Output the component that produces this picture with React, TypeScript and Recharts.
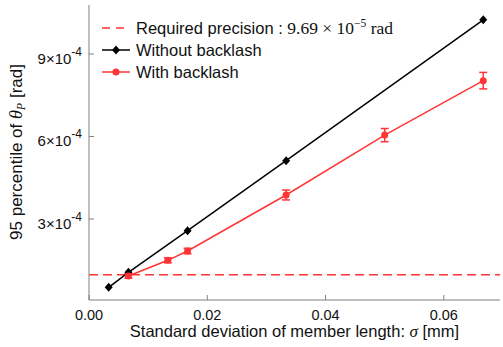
import { ComposedChart, ErrorBar, Line, ReferenceLine, XAxis, YAxis } from "recharts";

// standard deviation of member length [mm]
const sigmaWithout = [0.00333, 0.00667, 0.01667, 0.03333, 0.06667];
const thetaWithout = [0.516e-4, 1.062e-4, 2.575e-4, 5.12e-4, 10.24e-4];

const sigmaWith = [0.00667, 0.01333, 0.01667, 0.03333, 0.05, 0.06667];
const thetaWith = [0.927e-4, 1.498e-4, 1.836e-4, 3.873e-4, 6.05e-4, 8.03e-4];
const errWith = [0.08e-4, 0.09e-4, 0.1e-4, 0.18e-4, 0.24e-4, 0.3e-4];

const requiredPrecision = 9.69e-5;

const xTicks = [0, 0.02, 0.04, 0.06];
const yTicks = [3e-4, 6e-4, 9e-4];

const withoutData = sigmaWithout.map((s, i) => ({ sigma: s, theta: thetaWithout[i] }));
const withData = sigmaWith.map((s, i) => ({ sigma: s, theta: thetaWith[i], err: errWith[i] }));

const RED = "#ff3535";
const AXIS = "#808080";
const FONT = "'Liberation Sans', Arial, sans-serif";
const SERIF = "'Liberation Serif', 'Times New Roman', serif";

const BottomTick = ({ x, y, payload }: any) => (
  <g>
    <line x1={x} y1={y} x2={x} y2={y - 5} stroke={AXIS} />
    <text x={x} y={y + 20} textAnchor="middle" fontSize={14.5} fill="#111" fontFamily={FONT}>
      {payload.value.toFixed(2)}
    </text>
  </g>
);

const TopTick = ({ x, y }: any) => <line x1={x} y1={y} x2={x} y2={y + 5} stroke={AXIS} />;

const LeftTick = ({ x, y, payload }: any) => {
  const [m, e] = payload.value.toExponential(0).split("e");
  return (
    <g>
      <line x1={x} y1={y} x2={x + 5} y2={y} stroke={AXIS} />
      <text x={x - 7} y={y + 10} textAnchor="end" fontSize={15} fill="#111" fontFamily={FONT}>
        {m}×10
        <tspan dy={-8} fontSize={12}>{e}</tspan>
      </text>
    </g>
  );
};

const RightTick = ({ x, y }: any) => <line x1={x} y1={y} x2={x - 5} y2={y} stroke={AXIS} />;

const Diamond = ({ cx, cy, index }: any) => (
  <path key={index} d={`M${cx},${cy - 4.5}L${cx + 4},${cy}L${cx},${cy + 4.5}L${cx - 4},${cy}Z`} fill="#000" />
);

const XLabel = ({ viewBox }: any) => (
  <text
    x={viewBox.x + viewBox.width / 2}
    y={viewBox.y + 37}
    textAnchor="middle"
    fontSize={16.5}
    fill="#111"
    fontFamily={FONT}
  >
    Standard deviation of member length:{" "}
    <tspan fontFamily={SERIF} fontStyle="italic" fontSize={17}>σ</tspan> [mm]
  </text>
);

const YLabel = () => (
  <text
    transform="translate(22,152) rotate(-90)"
    textAnchor="middle"
    fontSize={17}
    fill="#111"
    fontFamily={FONT}
  >
    95 percentile of{" "}
    <tspan fontFamily={SERIF} fontStyle="italic" fontSize={18}>θ</tspan>
    <tspan fontFamily={SERIF} fontStyle="italic" fontSize={12} dy={3}>P</tspan>
    <tspan dy={-3}> [rad]</tspan>
  </text>
);

function LegendBox() {
  const row = (y: number, icon: React.ReactNode, label: React.ReactNode) => (
    <div style={{ position: "absolute", left: 0, top: y, display: "flex", alignItems: "center", height: 20 }}>
      <svg width={34} height={20}>{icon}</svg>
      <span style={{ marginLeft: 2, whiteSpace: "nowrap" }}>{label}</span>
    </div>
  );
  return (
    <div style={{ position: "absolute", left: 100, top: 0, fontFamily: FONT, fontSize: 16.5, color: "#111" }}>
      {row(
        18,
        <line x1={2} y1={10} x2={30} y2={10} stroke={RED} strokeWidth={1.5} strokeDasharray="8 6" />,
        <>
          Required precision :{" "}
          <span style={{ fontFamily: SERIF, fontSize: 17.5 }}>
            9.69 × 10<sup style={{ fontSize: 11.5 }}>−5</sup> rad
          </span>
        </>
      )}
      {row(
        40,
        <>
          <line x1={2} y1={10} x2={30} y2={10} stroke="#000" strokeWidth={1.5} />
          <path d="M16,5.5L20,10L16,14.5L12,10Z" fill="#000" />
        </>,
        "Without backlash"
      )}
      {row(
        62,
        <>
          <line x1={2} y1={10} x2={30} y2={10} stroke={RED} strokeWidth={1.5} />
          <circle cx={16} cy={10} r={3.5} fill={RED} />
        </>,
        "With backlash"
      )}
    </div>
  );
}

export default function App() {
  return (
    <div style={{ position: "absolute", left: 0, top: 0, width: 503, height: 347, background: "#fff" }}>
      <ComposedChart width={503} height={347} margin={{ top: 5, right: 3, left: 0, bottom: 0 }}>
        <XAxis
          xAxisId="b"
          dataKey="sigma"
          type="number"
          domain={[0, 0.0695]}
          ticks={xTicks}
          allowDataOverflow
          height={47}
          tickSize={0}
          tickMargin={0}
          tickLine={false}
          axisLine={{ stroke: AXIS }}
          tick={<BottomTick />}
          label={<XLabel />}
        />
        <XAxis
          xAxisId="t"
          orientation="top"
          type="number"
          domain={[0, 0.0695]}
          ticks={xTicks}
          allowDataOverflow
          height={0}
          tickSize={0}
          tickMargin={0}
          tickLine={false}
          axisLine={{ stroke: AXIS }}
          tick={<TopTick />}
        />
        <YAxis
          yAxisId="l"
          type="number"
          domain={[5.5e-6, 1.078e-3]}
          ticks={yTicks}
          allowDataOverflow
          width={89}
          tickSize={0}
          tickMargin={0}
          tickLine={false}
          axisLine={{ stroke: AXIS }}
          tick={<LeftTick />}
          label={<YLabel />}
        />
        <YAxis
          yAxisId="r"
          orientation="right"
          type="number"
          domain={[5.5e-6, 1.078e-3]}
          ticks={yTicks}
          allowDataOverflow
          width={0}
          tickSize={0}
          tickMargin={0}
          tickLine={false}
          axisLine={{ stroke: AXIS }}
          tick={<RightTick />}
        />
        <ReferenceLine
          xAxisId="b"
          yAxisId="l"
          y={requiredPrecision}
          stroke={RED}
          strokeWidth={1.5}
          strokeDasharray="9 5"
        />
        <Line
          xAxisId="b"
          yAxisId="l"
          data={withoutData}
          dataKey="theta"
          stroke="#000"
          strokeWidth={1.5}
          dot={<Diamond />}
          isAnimationActive={false}
        />
        <Line
          xAxisId="b"
          yAxisId="l"
          data={withData}
          dataKey="theta"
          stroke={RED}
          strokeWidth={1.5}
          dot={{ r: 3.5, fill: RED, stroke: RED, strokeWidth: 0 }}
          isAnimationActive={false}
        >
          <ErrorBar dataKey="err" direction="y" width={4} stroke={RED} strokeWidth={1.5} />
        </Line>
      </ComposedChart>
      <LegendBox />
    </div>
  );
}
